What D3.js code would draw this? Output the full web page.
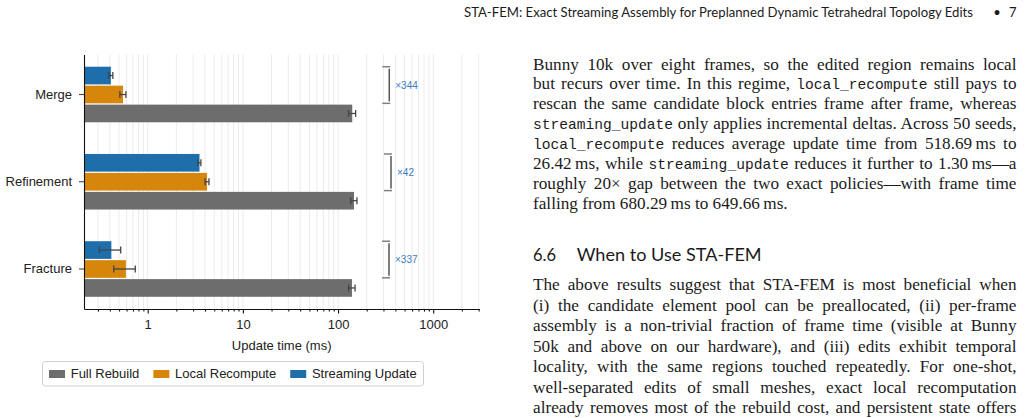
<!DOCTYPE html>
<html><head><meta charset="utf-8">
<script src="https://cdn.jsdelivr.net/npm/d3@7"></script>
<style>
html,body{margin:0;padding:0;background:#fff;}
svg{display:block;}
</style></head>
<body>
<svg id="c" width="1025" height="418"></svg>
<script>
// ---------------- data ----------------
const categories = ["Merge", "Refinement", "Fracture"];
const seriesNames = ["Streaming Update", "Local Recompute", "Full Rebuild"];
const fullRebuild = [141, 147, 140];
const fullRebuildErr = [12, 11, 11];
const localRecompute = [0.55, 4.2, 0.59];
const localRecomputeErr = [0.04, 0.2, 0.15];
const streamingUpdate = [0.41, 3.5, 0.415];
const streamingUpdateErr = [0.02, 0.12, 0.105];
const xTickLabels = [1, 10, 100, 1000];
const legendOrder = ["Full Rebuild", "Local Recompute", "Streaming Update"];
const colors = {"Full Rebuild": "#6d6d6d", "Local Recompute": "#d5860b", "Streaming Update": "#1f6eac"};
const xLabel = "Update time (ms)";

const values = {"Full Rebuild": fullRebuild, "Local Recompute": localRecompute, "Streaming Update": streamingUpdate};
const errors = {"Full Rebuild": fullRebuildErr, "Local Recompute": localRecomputeErr, "Streaming Update": streamingUpdateErr};

const rows = [];
categories.forEach((c, i) => seriesNames.forEach(s => rows.push({cat: c, series: s, v: values[s][i], e: errors[s][i]})));

const svg = d3.select("#c");
const chartFont = "'Liberation Sans', Arial, Helvetica, sans-serif";

// ---------------- scales ----------------
const x = d3.scaleLog().domain([0.214, 3050]).range([84, 479.3]);
const yG = d3.scaleBand().domain(categories).range([54.5, 309]).paddingInner(0.363).paddingOuter(0.14);
const yS = d3.scaleBand().domain(seriesNames).range([0, yG.bandwidth()]).paddingInner(0.068);
const [y0, y1] = yG.range();

// all log ticks within the domain
const allTicks = [];
[0.1, 1, 10, 100, 1000].forEach(d => { for (let k = 1; k <= 9; k++) { const v = +(d * k).toPrecision(3); if (v >= x.domain()[0] && v <= x.domain()[1]) allTicks.push(v); } });

// grid
svg.append("g").selectAll("line").data(allTicks).join("line")
  .attr("x1", d => x(d)).attr("x2", d => x(d))
  .attr("y1", y0).attr("y2", y1)
  .attr("stroke", "#ebebeb").attr("stroke-width", 1);

// bars
svg.append("g").selectAll("rect").data(rows).join("rect")
  .attr("x", x.range()[0])
  .attr("y", d => yG(d.cat) + yS(d.series))
  .attr("width", d => x(d.v) - x.range()[0])
  .attr("height", yS.bandwidth())
  .attr("fill", d => colors[d.series]);

// error bars
const eg = svg.append("g").attr("stroke", "#444").attr("stroke-width", 1.3).attr("fill", "none");
rows.forEach(d => {
  const cy = yG(d.cat) + yS(d.series) + yS.bandwidth() / 2;
  const xa = x(d.v - d.e), xb = x(d.v + d.e);
  eg.append("line").attr("x1", xa).attr("x2", xb).attr("y1", cy).attr("y2", cy);
  eg.append("line").attr("x1", xa).attr("x2", xa).attr("y1", cy - 3.5).attr("y2", cy + 3.5);
  eg.append("line").attr("x1", xb).attr("x2", xb).attr("y1", cy - 3.5).attr("y2", cy + 3.5);
});

// speed-up brackets
categories.forEach((c, i) => {
  const bx = x(fullRebuild[i] * 2.45);
  const top = yG(c) + yS("Streaming Update");
  const bot = yG(c) + yS("Local Recompute") + yS.bandwidth();
  const g = svg.append("g");
  g.append("line").attr("x1", bx - 7).attr("x2", bx + 1).attr("y1", top).attr("y2", top).attr("stroke", "#808080").attr("stroke-width", 1.5);
  g.append("line").attr("x1", bx - 7).attr("x2", bx + 1).attr("y1", bot).attr("y2", bot).attr("stroke", "#808080").attr("stroke-width", 1.5);
  g.append("line").attr("x1", bx).attr("x2", bx).attr("y1", top + 2).attr("y2", bot - 2).attr("stroke", "#555").attr("stroke-width", 1.5);
  g.append("text").attr("x", bx + 6).attr("y", (top + bot) / 2).attr("dy", "0.35em")
    .attr("font-family", chartFont).attr("font-size", 10).attr("fill", "#3b7dbd")
    .text("\u00d7" + Math.round(fullRebuild[i] / streamingUpdate[i]));
});

// x axis
const majorSet = new Set(xTickLabels);
const xAxis = svg.append("g").attr("transform", `translate(0,${y1})`)
  .call(d3.axisBottom(x).tickValues(allTicks).tickSize(4.5).tickSizeOuter(0).tickPadding(6)
    .tickFormat(d => majorSet.has(d) ? d3.format("d")(d) : ""));
xAxis.selectAll(".tick").filter(d => !majorSet.has(d)).select("line").attr("y2", 2.6);
xAxis.selectAll("line, path").attr("stroke", "#111").attr("stroke-width", 1.1);
xAxis.selectAll("text").attr("font-family", chartFont).attr("font-size", 13).attr("fill", "#222");

svg.append("text").attr("x", (x.range()[0] + x.range()[1]) / 2).attr("y", 349.5)
  .attr("text-anchor", "middle").attr("font-family", chartFont).attr("font-size", 13).attr("fill", "#222")
  .text(xLabel);

// y axis
const yAxis = svg.append("g").attr("transform", `translate(${x.range()[0]},0)`)
  .call(d3.axisLeft(yG).tickSize(5).tickSizeOuter(0).tickPadding(7));
yAxis.select("path").attr("stroke", "#111").attr("stroke-width", 1.1);
yAxis.selectAll(".tick line").attr("stroke", "#444").attr("stroke-width", 1.1);
yAxis.selectAll("text").attr("font-family", chartFont).attr("font-size", 13).attr("fill", "#222");

// legend
const lg = svg.append("g");
lg.append("rect").attr("x", 42.5).attr("y", 361.5).attr("width", 381).attr("height", 24.5).attr("rx", 3)
  .attr("fill", "#fff").attr("stroke", "#cfcfcf").attr("stroke-width", 1);
let lx = 49;
legendOrder.forEach(s => {
  lg.append("rect").attr("x", lx).attr("y", 370).attr("width", 16).attr("height", 8).attr("fill", colors[s]);
  const t = lg.append("text").attr("x", lx + 21.7).attr("y", 378.2)
    .attr("font-family", chartFont).attr("font-size", 13).attr("fill", "#222").text(s);
  lx = lx + 21.7 + t.node().getComputedTextLength() + 14;
});

// ---------------- page text (right column) ----------------
const serif = "'Liberation Serif', 'Times New Roman', serif";
const mono = "'Liberation Mono', 'DejaVu Sans Mono', monospace";
const sans = "Lato, 'Open Sans', sans-serif";
const ink = "#1b1b1b";

const header = svg.append("text").attr("y", 16.5).attr("font-family", sans).attr("font-size", 13).attr("fill", ink);
header.append("tspan").attr("x", 464).attr("textLength", 509).attr("lengthAdjust", "spacingAndGlyphs")
  .text("STA-FEM: Exact Streaming Assembly for Preplanned Dynamic Tetrahedral Topology Edits");
svg.append("text").attr("x", 997).attr("y", 16.5).attr("text-anchor", "middle").attr("font-family", sans).attr("font-size", 13).attr("fill", ink).text("\u2022");
svg.append("text").attr("x", 1016.5).attr("y", 16.5).attr("text-anchor", "end").attr("font-family", sans).attr("font-size", 13).attr("fill", ink).text("7");

const para1 = [
  [["Bunny 10k over eight frames, so the edited region remains local", "r"]],
  [["but recurs over time. In this regime, ", "r"], ["local_recompute", "c"], [" still pays to", "r"]],
  [["rescan the same candidate block entries frame after frame, whereas", "r"]],
  [["streaming_update", "c"], [" only applies incremental deltas. Across 50 seeds,", "r"]],
  [["local_recompute", "c"], [" reduces average update time from 518.69\u2009ms to", "r"]],
  [["26.42\u2009ms, while ", "r"], ["streaming_update", "c"], [" reduces it further to 1.30\u2009ms\u2014a", "r"]],
  [["roughly 20\u00d7 gap between the two exact policies\u2014with frame time", "r"]],
  [["falling from 680.29\u2009ms to 649.66\u2009ms.", "r"]]
];
const para2 = [
  [["The above results suggest that STA-FEM is most beneficial when", "r"]],
  [["(i) the candidate element pool can be preallocated, (ii) per-frame", "r"]],
  [["assembly is a non-trivial fraction of frame time (visible at Bunny", "r"]],
  [["50k and above on our hardware), and (iii) edits exhibit temporal", "r"]],
  [["locality, with the same regions touched repeatedly. For one-shot,", "r"]],
  [["well-separated edits of small meshes, exact local recomputation", "r"]],
  [["already removes most of the rebuild cost, and persistent state offers", "r"]]
];
const colX = 533, colW = 483.5;

function drawLine(segs, y, justify) {
  const t = svg.append("text").attr("x", colX).attr("y", y).attr("fill", ink)
    .attr("font-family", serif).attr("font-size", 17.2).style("white-space", "pre");
  segs.forEach(([txt, kind]) => {
    const ts = t.append("tspan").text(txt);
    if (kind === "c") ts.attr("font-family", mono).attr("font-size", 14.6);
  });
  if (justify) {
    const nat = t.node().getComputedTextLength();
    const spaces = segs.map(s => s[0]).join("").split(" ").length - 1;
    if (spaces > 0) t.style("word-spacing", ((colW - nat) / spaces) + "px");
  }
}
para1.forEach((l, i) => drawLine(l, 69.5 + i * 19.9, i < para1.length - 1));

const hd = svg.append("text").attr("y", 261).attr("font-family", sans).attr("font-size", 16.5).attr("fill", ink);
hd.append("tspan").attr("x", 533).text("6.6");
hd.append("tspan").attr("x", 576.7).attr("textLength", 185).attr("lengthAdjust", "spacingAndGlyphs").text("When to Use STA-FEM");

para2.forEach((l, i) => drawLine(l, 290 + i * 20.5, true));
</script>
</body></html>
